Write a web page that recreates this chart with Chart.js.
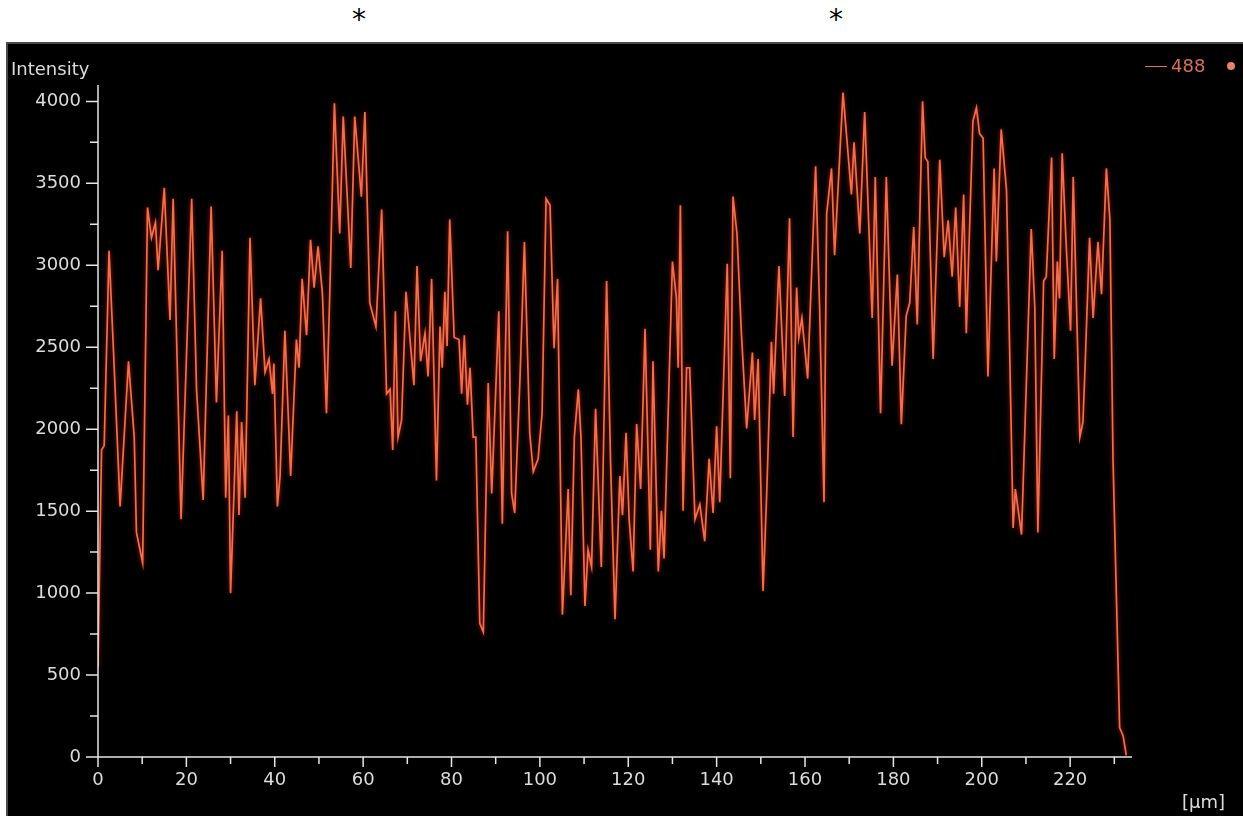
<!DOCTYPE html>
<html>
<head>
<meta charset="utf-8">
<script src="https://cdn.jsdelivr.net/npm/chart.js@4/dist/chart.umd.min.js"></script>
<style>
  html, body { margin: 0; padding: 0; background: #fff; }
  body { width: 1243px; height: 816px; position: relative; overflow: hidden; font-family: "DejaVu Sans", sans-serif; }
  .star { position: absolute; top: 2px; font-size: 28px; line-height: 36px; color: #000; }
  #panel { position: absolute; left: 6px; top: 42px; width: 1237px; height: 774px; background: #000;
           border-top: 2px solid #4a4a4a; border-left: 2px solid #4a4a4a; box-sizing: border-box; }
  #chart { position: absolute; left: 0; top: 0; }
  .lbl { position: absolute; font-size: 18px; line-height: 18px; color: #dcdcdc; white-space: nowrap; }
  #legend { position: absolute; left: 1145px; top: 57px; font-size: 18px; line-height: 18px; color: #d9705a; }
  #legend .ln { display: inline-block; width: 22px; height: 0; border-top: 1.5px solid #d9705a; vertical-align: 5px; margin-right: 4px; }
  #legend .dot { display: inline-block; width: 8px; height: 8px; border-radius: 50%; background: #e8826a; margin-left: 22px; vertical-align: 2px; }
</style>
</head>
<body>
<div class="star" style="left:352px">*</div>
<div class="star" style="left:829px">*</div>
<div id="panel"></div>
<canvas id="chart" width="1243" height="816"></canvas>
<div class="lbl" style="left:11px; top:60px;">Intensity</div>
<div class="lbl" style="left:1182px; top:793px;">[µm]</div>
<div id="legend"><span class="ln"></span>488<span class="dot"></span></div>
<script>
// line profile, channel 488
const seriesName = "488";

const positions = [
  0, 0.8, 1.4, 2.5, 3.5, 5.0, 6.9, 8.2, 8.7, 10.1, 11.2, 12.1, 13.0, 13.6, 15.0, 16.3, 17.0, 18.8,
  21.2, 22.3, 23.8, 25.6, 26.8, 28.1, 28.9, 29.5, 30.0, 31.4, 31.9, 32.5, 33.3, 34.4, 35.5, 36.8,
  37.8, 38.7, 39.5, 39.8, 40.6, 41.2, 42.3, 43.6, 44.9, 45.5, 46.2, 47.2, 48.1, 48.9, 49.8, 50.8,
  51.7, 52.5, 53.5, 54.7, 55.5, 57.2, 58.1, 59.6, 60.4, 61.5, 62.9, 64.2, 65.3, 66.1, 66.7, 67.3,
  67.9, 68.7, 69.7, 71.5, 72.2, 73.0, 74.0, 74.7, 75.5, 76.6, 77.4, 77.9, 78.5, 79.0, 79.6, 80.6,
  81.7, 82.3, 82.9, 83.6, 84.2, 84.9, 85.5, 86.4, 87.2, 88.3, 89.1, 90.7, 91.5, 92.7, 93.6, 94.3,
  95.5, 96.5, 97.7, 98.5, 99.6, 100.5, 101.4, 102.3, 103.2, 104.0, 105.1, 106.4, 107.0, 107.8,
  108.7, 109.3, 110.2, 110.9, 111.7, 112.6, 113.9, 115.1, 116.0, 117.0, 118.1, 118.7, 119.5,
  120.2, 121.1, 121.9, 122.8, 123.8, 125.0, 125.6, 126.8, 127.5, 128.1, 130.0, 130.9, 131.3,
  131.8, 132.4, 133.2, 133.9, 135.1, 136.2, 137.3, 138.3, 139.2, 140.0, 140.7, 142.4, 143.1,
  143.7, 144.6, 145.6, 146.8, 148.1, 148.6, 149.4, 150.5, 151.3, 152.4, 152.9, 154.1, 155.4,
  156.5, 157.3, 158.1, 158.6, 159.3, 160.6, 162.4, 163.3, 164.3, 164.9, 166.0, 166.7, 168.6,
  170.5, 171.1, 172.4, 173.5, 175.2, 175.9, 177.1, 178.4, 179.7, 180.9, 181.8, 182.9, 183.7,
  184.6, 185.4, 186.6, 187.2, 187.8, 189.0, 190.5, 191.5, 192.4, 193.3, 194.1, 195.0, 195.9,
  196.5, 198.0, 198.8, 199.5, 200.3, 201.4, 202.8, 203.3, 204.4, 205.6, 207.1, 207.6, 209.0,
  211.2, 212.0, 212.7, 214.0, 214.6, 215.8, 216.4, 217.1, 217.6, 218.2, 219.1, 220.1, 220.7,
  222.2, 222.9, 223.4, 224.4, 225.2, 226.3, 227.1, 228.2, 229.0, 229.7, 231.2, 232.0, 232.7
];

const intensity = [
  550, 1873, 1900, 3089, 2480, 1529, 2414, 1952, 1370, 1185, 3353, 3168, 3261, 2970, 3472, 2666, 3406, 1450,
  3406, 2243, 1568, 3358, 2163, 3089, 1582, 2084, 1000, 2110, 1476, 2044, 1582, 3168, 2269, 2798,
  2348, 2428, 2216, 2401, 1529, 1714, 2600, 1714, 2547, 2375, 2917, 2573, 3155, 2864, 3115, 2824,
  2097, 2877, 3988, 3194, 3908, 2983, 3908, 3419, 3935, 2771, 2626, 3340, 2216, 2243, 1873, 2719,
  1952, 2057, 2838, 2269, 2996, 2414, 2586, 2322, 2917, 1687, 2626, 2375, 2838, 2507, 3280, 2560,
  2547, 2216, 2573, 2150, 2375, 1952, 1952, 815, 762, 2282, 1608, 2719, 1423, 3208, 1608, 1489,
  2309, 3142, 1978, 1740, 1820, 2097, 3406, 3366, 2494, 2917, 868, 1635, 987, 1952,
  2243, 1952, 921, 1264, 1159, 2124, 1159, 2904, 1793, 841, 1714, 1476, 1978,
  1450, 1132, 2031, 1635, 2613, 1264, 2414, 1132, 1502, 1211, 3023, 2798, 2375,
  3366, 1502, 2375, 2375, 1450, 1542, 1317, 1820, 1489, 2018, 1555, 3009, 1701,
  3419, 3194, 2586, 2005, 2467, 2057, 2428, 1013, 1582, 2533, 2216, 2996, 2203,
  3287, 1952, 2864, 2560, 2679, 2309, 3604, 2745, 1555, 3313, 3591, 3062, 4054,
  3432, 3750, 3194, 3935, 2679, 3538, 2097, 3538, 2388, 2943, 2031, 2692, 2771,
  3234, 2639, 4001, 3657, 3631, 2428, 3644, 3049, 3274, 2930, 3353, 2745, 3432,
  2586, 3880, 3961, 3803, 3776, 2322, 3591, 3023, 3829, 3459, 1397, 1635, 1357,
  3221, 2745, 1370, 2904, 2930, 3657, 2428, 3023, 2798, 3684, 3128, 2600, 3538,
  1952, 2044, 2401, 3168, 2679, 3142, 2824, 3591, 3274, 1820, 180, 128, 10
];

// tick labels
const xTickValues = [0, 20, 40, 60, 80, 100, 120, 140, 160, 180, 200, 220];
const yTickValues = [0, 500, 1000, 1500, 2000, 2500, 3000, 3500, 4000];

const xMax = 234;
const yMax = 4100;
const xMinor = 10, yMinor = 250;

const axisColor = "#e6e6e6";
const tickFont = { family: "DejaVu Sans", size: 18 };

const profileData = positions.map((p, i) => ({ x: p, y: intensity[i] }));

// axis lines and major/minor tick marks, placed via the chart scales
const axisTicks = {
  id: "axisTicks",
  afterDraw(chart) {
    const { ctx, chartArea, scales } = chart;
    const xs = scales.x, ys = scales.y;
    ctx.save();
    ctx.strokeStyle = axisColor;
    ctx.lineWidth = 1.5;
    ctx.beginPath();
    ctx.moveTo(chartArea.left, chartArea.top);
    ctx.lineTo(chartArea.left, chartArea.bottom);
    ctx.lineTo(chartArea.right, chartArea.bottom);
    for (let v = 0; v <= 4000; v += yMinor) {
      const py = ys.getPixelForValue(v);
      const len = yTickValues.includes(v) ? 12 : 8;
      ctx.moveTo(chartArea.left - len, py);
      ctx.lineTo(chartArea.left, py);
    }
    for (let v = 0; v <= 230; v += xMinor) {
      const px = xs.getPixelForValue(v);
      const len = xTickValues.includes(v) ? 10 : 7;
      ctx.moveTo(px, chartArea.bottom);
      ctx.lineTo(px, chartArea.bottom + len);
    }
    ctx.stroke();
    ctx.restore();
  }
};

const glow = {
  id: "glow",
  beforeDatasetDraw(chart) {
    chart.ctx.save();
    chart.ctx.shadowColor = "rgba(255,50,20,0.7)";
    chart.ctx.shadowBlur = 4;
  },
  afterDatasetDraw(chart) {
    chart.ctx.restore();
  }
};

new Chart(document.getElementById("chart"), {
  type: "line",
  data: {
    datasets: [{
      label: seriesName,
      data: profileData,
      borderColor: "#f0704e",
      borderWidth: 1.7,
      tension: 0,
      pointRadius: 0,
      fill: false
    }]
  },
  options: {
    responsive: false,
    animation: false,
    layout: { padding: { left: 10, top: 85, right: 111, bottom: 0 } },
    plugins: { legend: { display: false }, tooltip: { enabled: false } },
    scales: {
      x: {
        type: "linear",
        min: 0,
        max: xMax,
        grid: { display: false, drawTicks: false },
        border: { display: false },
        afterFit: (s) => { s.height = 59; },
        afterBuildTicks: (s) => { s.ticks = xTickValues.map(v => ({ value: v })); },
        ticks: {
          maxRotation: 0,
          autoSkip: false,
          padding: 13,
          color: "#dcdcdc",
          font: tickFont,
          callback: (v) => String(v)
        }
      },
      y: {
        min: 0,
        max: yMax,
        grid: { display: false, drawTicks: false },
        border: { display: false },
        afterFit: (s) => { s.width = 88; },
        afterBuildTicks: (s) => { s.ticks = yTickValues.map(v => ({ value: v })); },
        ticks: {
          autoSkip: false,
          padding: 17,
          color: "#dcdcdc",
          font: tickFont,
          callback: (v) => String(v)
        }
      }
    }
  },
  plugins: [axisTicks, glow]
});
</script>
</body>
</html>
